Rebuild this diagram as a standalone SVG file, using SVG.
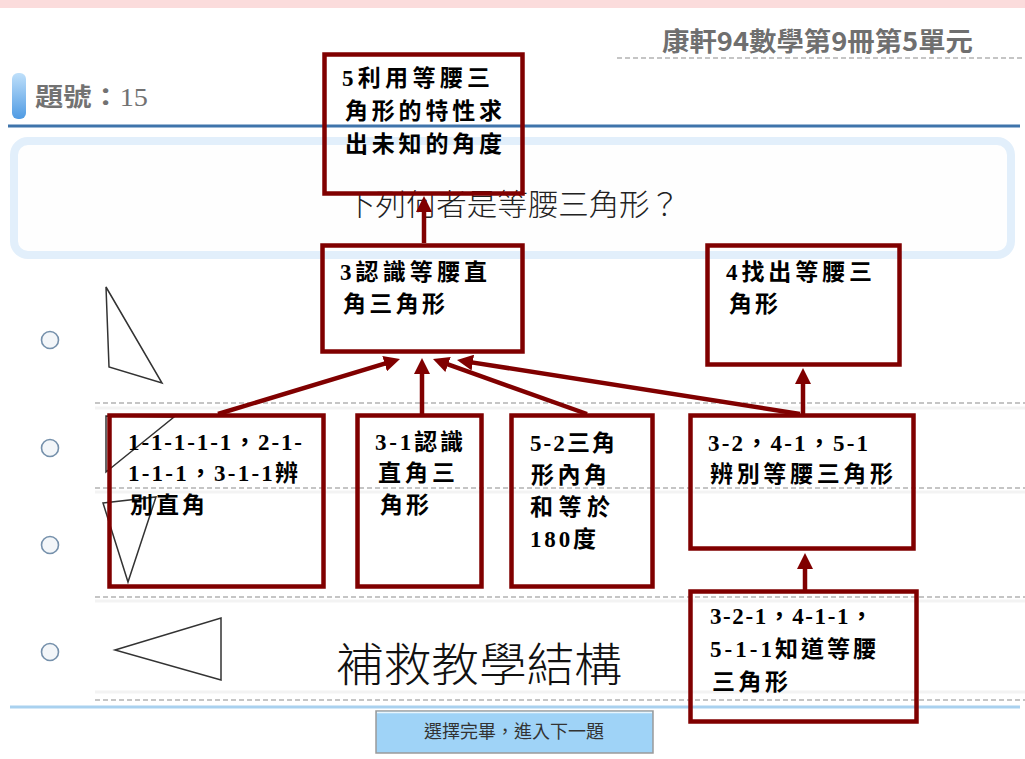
<svg xmlns="http://www.w3.org/2000/svg" width="1025" height="759" viewBox="0 0 1025 759">
<defs>
<style>
.node rect{fill:none;stroke:#800000;stroke-width:4.5}
.node text{font-family:"Liberation Serif","Noto Sans CJK TC",serif;font-weight:bold;font-size:23px;fill:#000}
.conn line{stroke:#800000;stroke-width:4.5;fill:none;marker-end:url(#ah)}
.dash{stroke:#b2b2b2;stroke-width:1.3;stroke-dasharray:5 3}
.band{stroke:#f3f3f3;stroke-width:3}
.radio{fill:#f3f6f9;stroke:#7590ab;stroke-width:1.6}
.tri{fill:none;stroke:#333;stroke-width:1.5}
.ui{font-family:"Noto Sans CJK TC","Noto Sans CJK SC",sans-serif}
</style>
<marker id="ah" viewBox="0 0 16 16" markerUnits="userSpaceOnUse" markerWidth="16" markerHeight="16" refX="6" refY="8" orient="auto">
<path d="M0,0 L16,8 L0,16 z" fill="#800000"/>
</marker>
<linearGradient id="pill" x1="0" y1="0" x2="0" y2="1">
<stop offset="0" stop-color="#bfe0fa"/>
<stop offset="1" stop-color="#4f9be3"/>
</linearGradient>
</defs>

<g id="background">
<rect x="0" y="0" width="1025" height="759" fill="#ffffff"/>
<rect x="0" y="0" width="1025" height="8" fill="#fbdcdc"/>
<text class="ui" x="662" y="51" font-size="26" fill="#6f6f6f" font-weight="bold" textLength="311" lengthAdjust="spacingAndGlyphs">康軒94數學第9冊第5單元</text>
<line x1="617" y1="58" x2="1025" y2="58" class="dash"/>
<rect x="12" y="73" width="14" height="46" rx="6" fill="url(#pill)"/>
<text class="ui" x="35" y="106" font-size="25" fill="#727272" font-weight="bold" textLength="113" lengthAdjust="spacingAndGlyphs">題號：<tspan font-family="Liberation Serif,serif" font-weight="normal">15</tspan></text>
<line x1="8" y1="126" x2="1020" y2="126" stroke="#3f74ab" stroke-width="3"/>
<rect x="14" y="141" width="997" height="114" rx="14" fill="#fefefe" stroke="#e2effb" stroke-width="8"/>
<text class="ui" x="345" y="215" font-size="30" fill="#222" font-weight="300" textLength="335" lengthAdjust="spacingAndGlyphs">下列何者是等腰三角形？</text>

<line x1="95" y1="408" x2="1025" y2="408" class="band"/>
<line x1="95" y1="403" x2="1025" y2="403" class="dash"/>
<line x1="95" y1="492" x2="1025" y2="492" class="band"/>
<line x1="95" y1="488" x2="1025" y2="488" class="dash"/>
<line x1="95" y1="601" x2="1025" y2="601" class="band"/>
<line x1="95" y1="597" x2="1025" y2="597" class="dash"/>
<line x1="95" y1="692" x2="1025" y2="692" class="band"/>
<line x1="95" y1="700" x2="1025" y2="700" class="dash"/>
<line x1="10" y1="707" x2="1020" y2="707" stroke="#a9d1ef" stroke-width="3"/>

<circle cx="50" cy="340" r="8.5" class="radio"/>
<circle cx="50" cy="448" r="8.5" class="radio"/>
<circle cx="50" cy="545" r="8.5" class="radio"/>
<circle cx="50" cy="652" r="8.5" class="radio"/>

<polygon class="tri" points="106,287 109,367 162,383"/>
<polygon class="tri" points="106,416 106,472 174,417"/>
<polygon class="tri" points="103,503 156,497 128,582"/>
<polygon class="tri" points="115,650 221,618 221,680"/>

<text class="ui" x="336" y="681" font-size="46" fill="#111" font-weight="300" textLength="286" lengthAdjust="spacingAndGlyphs">補救教學結構</text>

<rect x="376" y="711" width="277" height="42" fill="#9fd3f7" stroke="#9a9a9a" stroke-width="1.5"/>
<line x1="377" y1="712.5" x2="652" y2="712.5" stroke="#e8f5fd" stroke-width="1.5"/>
<text class="ui" x="514" y="738" font-size="18" fill="#333" text-anchor="middle" textLength="180" lengthAdjust="spacingAndGlyphs">選擇完畢，進入下一題</text>
</g>

<g id="connectors" class="conn">
<line x1="424" y1="243" x2="424" y2="206"/>
<line x1="218" y1="414" x2="390.4" y2="361.9"/>
<line x1="422" y1="414" x2="422" y2="368"/>
<line x1="587" y1="414" x2="442.4" y2="362.4"/>
<line x1="800" y1="414" x2="466.9" y2="361.6"/>
<line x1="803" y1="414" x2="803" y2="378"/>
<line x1="805" y1="590" x2="805" y2="563"/>
</g>

<g id="n5" class="node">
<rect x="324.5" y="54.5" width="198" height="139"/>
<text x="342" y="86" textLength="148">5利用等腰三</text>
<text x="345" y="119" textLength="157">角形的特性求</text>
<text x="345" y="152" textLength="157">出未知的角度</text>
</g>

<g id="n3" class="node">
<rect x="322.5" y="245.5" width="200" height="106"/>
<text x="340" y="280" textLength="147">3認識等腰直</text>
<text x="343" y="312" textLength="102">角三角形</text>
</g>

<g id="n4" class="node">
<rect x="707.5" y="245.5" width="192" height="119"/>
<text x="726" y="280" textLength="146">4找出等腰三</text>
<text x="729" y="312" textLength="49">角形</text>
</g>

<g id="n11" class="node">
<rect x="109.5" y="415.5" width="214" height="171"/>
<text x="128" y="450" textLength="174">1-1-1-1-1，2-1-</text>
<text x="128" y="481" textLength="170">1-1-1，3-1-1辨</text>
<text x="130" y="513" textLength="75">別直角</text>
</g>

<g id="n31" class="node">
<rect x="357.5" y="415.5" width="124" height="171"/>
<text x="375" y="450" textLength="88">3-1認識</text>
<text x="378" y="481" textLength="77">直角三</text>
<text x="380" y="513" textLength="49">角形</text>
</g>

<g id="n52" class="node">
<rect x="511.5" y="415.5" width="141" height="171"/>
<text x="530" y="451" textLength="85">5-2三角</text>
<text x="531" y="483" textLength="76">形內角</text>
<text x="530" y="515" textLength="80">和等於</text>
<text x="530" y="547" textLength="66">180度</text>
</g>

<g id="n32" class="node">
<rect x="690.5" y="415.5" width="223" height="133"/>
<text x="708" y="451" textLength="160">3-2，4-1，5-1</text>
<text x="710" y="482" textLength="183">辨別等腰三角形</text>
</g>

<g id="n321" class="node">
<rect x="690.5" y="591.5" width="226" height="130"/>
<text x="710" y="624" textLength="163">3-2-1，4-1-1，</text>
<text x="710" y="657" textLength="166">5-1-1知道等腰</text>
<text x="712" y="690" textLength="76">三角形</text>
</g>
</svg>
